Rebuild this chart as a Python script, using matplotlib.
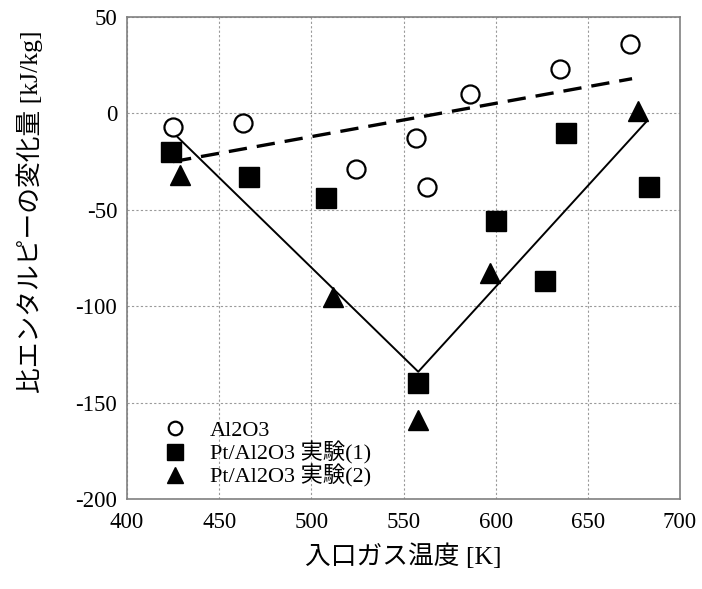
import matplotlib
matplotlib.use("Agg")
import matplotlib.pyplot as plt

plt.rcParams['axes.unicode_minus'] = False

# Data
al2o3_x = [425, 463, 524, 557, 563, 586, 635, 673]
al2o3_y = [-7, -5, -29, -13, -38, 10, 23, 36]

pt1_x = [424, 466, 508, 558, 600, 627, 638, 683]
pt1_y = [-20, -33, -44, -140, -56, -87, -10, -38]

pt2_x = [429, 512, 558, 597, 677]
pt2_y = [-32, -95, -159, -83, 1]

fit_x = [425, 674]
fit_y = [-25, 18]

v_x = [425, 558, 682]
v_y = [-10, -134, -4]

xticks = [400, 450, 500, 550, 600, 650, 700]
yticks = [-200, -150, -100, -50, 0, 50]

serif_cjk = ['Liberation Serif', 'Noto Sans CJK JP']

fig = plt.figure(figsize=(7.02, 5.89), dpi=100)
ax = fig.add_axes([127/702, (589-499)/589, (680-127)/702, (499-17)/589])

ax.plot(fit_x, fit_y, color='black', lw=2.4, ls=(0, (5.5, 3)), zorder=3)
ax.plot(v_x, v_y, color='black', lw=1.4, zorder=3)

ax.plot(al2o3_x, al2o3_y, 'o', ms=13, mfc='white', mec='black', mew=1.6,
        ls='none', label='Al2O3', zorder=4)
ax.plot(pt1_x, pt1_y, 's', ms=14.5, color='black', ls='none',
        label='Pt/Al2O3 実験(1)', zorder=4)
ax.plot(pt2_x, pt2_y, '^', ms=14.5, color='black', ls='none',
        label='Pt/Al2O3 実験(2)', zorder=4)

ax.set_xlim(400, 700)
ax.set_ylim(-200, 50)
ax.set_xticks(xticks)
ax.set_yticks(yticks)
ax.grid(True, color='#9a9a9a', lw=0.8, ls=(0, (2, 2)))
ax.set_axisbelow(True)
ax.tick_params(length=0, labelsize=16.5)
ax.tick_params(axis='y', pad=7)
ax.tick_params(axis='x', pad=9)
for lab in ax.get_xticklabels() + ax.get_yticklabels():
    lab.set_family('Liberation Serif')
for s in ax.spines.values():
    s.set_color('#808080')
    s.set_linewidth(1.2)

ax.set_xlabel('入口ガス温度 [K]', family=serif_cjk, fontsize=18.5, labelpad=8)
ax.set_ylabel('比エンタルピーの変化量 [kJ/kg]', family=serif_cjk, fontsize=18.5)
ax.yaxis.set_label_coords(-0.152, 0.595)

leg = ax.legend(loc='lower left', bbox_to_anchor=(0.03, -0.013), frameon=False,
                prop={'family': serif_cjk, 'size': 16}, handletextpad=1.0,
                labelspacing=0.0, borderpad=0.3, markerscale=0.75, handlelength=1.2)

fig.savefig('out.png', dpi=100)
